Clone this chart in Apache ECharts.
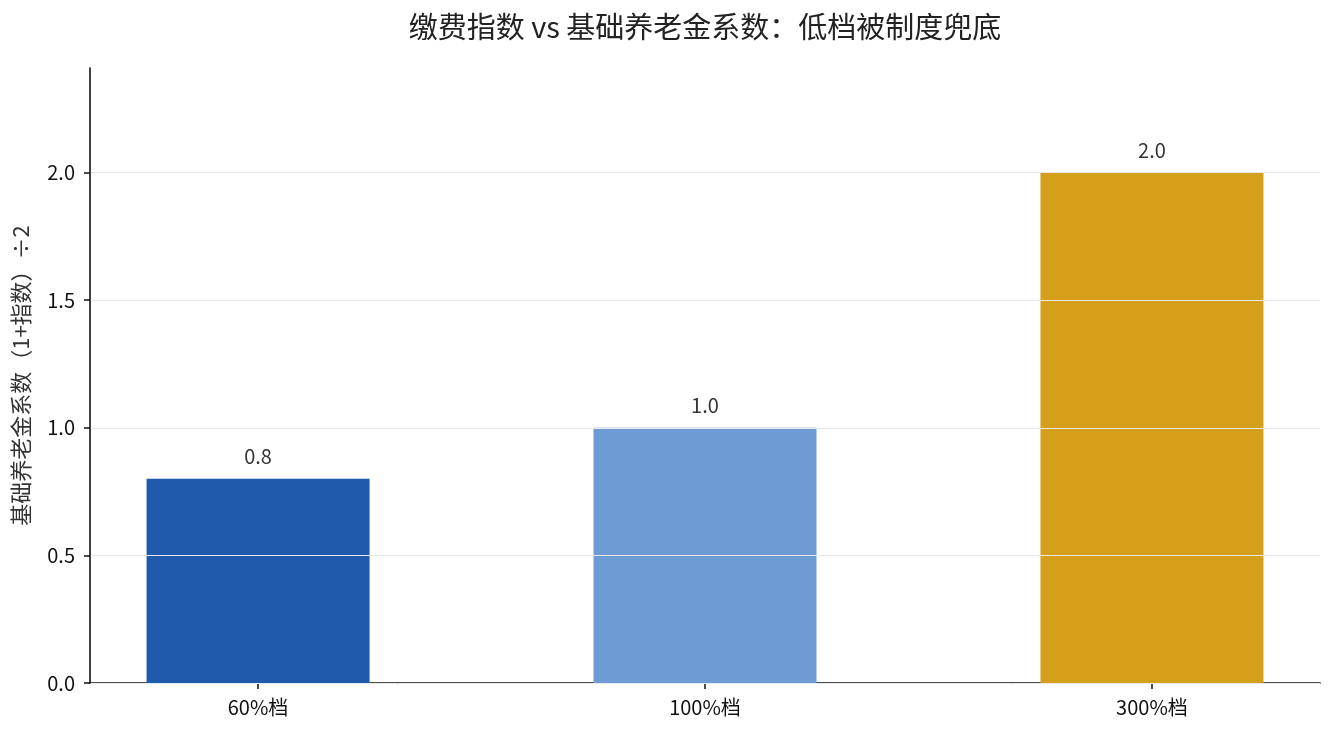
<!DOCTYPE html>
<html>
<head>
<meta charset="utf-8">
<script src="https://cdn.jsdelivr.net/npm/echarts@6/dist/echarts.min.js"></script>
<style>
html,body{margin:0;padding:0;background:#fff}
#mainChart{width:1335px;height:735px}
</style>
</head>
<body>
<div id="mainChart"></div>
<script>
var categories = ["60%档", "100%档", "300%档"];
var coefValues = [0.8, 1.0, 2.0];
var barColors = ["#1f5aad", "#6c9cd3", "#d4a01b"];
var yTicks = [0, 0.5, 1.0, 1.5, 2.0];

var font = "Noto Sans CJK SC";
var myChart = echarts.init(document.getElementById("mainChart"));

var barData = []
for (var i = 0; i < categories.length; i++) {
    barData.push({
        value: [i, coefValues[i]],
        itemStyle: {color: barColors[i]}
    })
}

var option = {
    animation: false,
    title: {
        text: "缴费指数 vs 基础养老金系数：低档被制度兜底",
        left: 700,
        textAlign: "center",
        top: 7,
        textStyle: {fontFamily: font, fontSize: 29, fontWeight: "normal", color: "#222"}
    },
    grid: {left: 90, right: 15, top: 68, bottom: 52},
    xAxis: {
        type: "value",
        min: -0.376,
        max: 2.376,
        axisLine: {onZero: false, lineStyle: {color: "#111", width: 1.6}},
        axisTick: {show: true, length: 6, customValues: [0, 1, 2], lineStyle: {color: "#111", width: 1.5}},
        axisLabel: {
            customValues: [0, 1, 2],
            formatter: function (v) { return categories[Math.round(v)]; },
            fontFamily: font, fontSize: 20, color: "#111", margin: 14
        },
        splitLine: {show: false}
    },
    yAxis: {
        type: "value",
        min: 0,
        max: 2.41,
        z: 3,
        name: "基础养老金系数（1+指数）÷2",
        nameLocation: "middle",
        nameGap: 58,
        nameTextStyle: {fontFamily: font, fontSize: 22, color: "#333"},
        axisLine: {show: true, onZero: false, lineStyle: {color: "#111", width: 1.6}},
        axisTick: {show: true, length: 6, customValues: yTicks, lineStyle: {color: "#111", width: 1.5}},
        axisLabel: {
            customValues: yTicks,
            formatter: function (v) { return v.toFixed(1); },
            fontFamily: font, fontSize: 20, color: "#111", margin: 15
        },
        splitLine: {show: true, lineStyle: {color: "#e8e8e8", width: 1}}
    },
    series: [{
        type: "bar",
        data: barData,
        barWidth: 223,
        label: {
            show: true,
            position: "top",
            distance: 12,
            formatter: function (p) { return p.value[1].toFixed(1); },
            fontFamily: font, fontSize: 20, color: "#333"
        }
    }]
};
myChart.setOption(option);
</script>
</body>
</html>
